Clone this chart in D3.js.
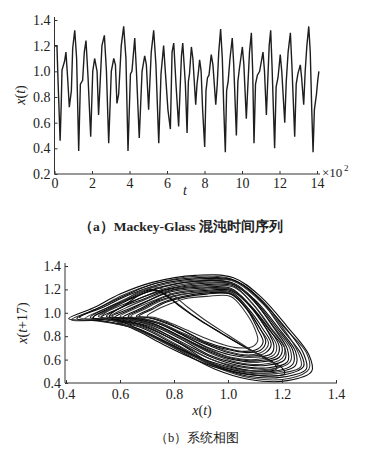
<!DOCTYPE html>
<html>
<head>
<meta charset="utf-8">
<script src="https://cdn.jsdelivr.net/npm/d3@7"></script>
<style>
  body { margin: 0; background: #fff; }
  svg { display: block; }
  text { font-family: "Liberation Serif", "DejaVu Serif", serif; fill: #222; }
</style>
</head>
<body>
<div id="chart"></div>
<script>
// (a) time series at turning points
const seriesT = [0, 13, 19, 30, 36, 40, 54, 61, 70, 79, 90, 97, 108, 118, 129, 138, 150, 159, 168, 179,
  193, 204, 214, 227, 235, 253, 266, 277, 289, 303, 316, 325, 333, 342, 356, 369, 381, 392, 405, 413,
  428, 437, 452, 467, 481, 490, 502, 516, 529, 541, 556, 568, 582, 591, 605, 618, 627, 636, 648, 662,
  677, 684, 698, 707, 714, 720, 730, 738, 753, 760, 768, 774, 782, 790, 801, 808, 816, 824, 836, 845,
  860, 868, 876, 886, 895, 903, 911, 918, 926, 936, 948, 956, 970, 978, 986, 1002, 1010, 1023, 1030, 1040,
  1050, 1057, 1064, 1072, 1082, 1094, 1112, 1120, 1130, 1138, 1145, 1153, 1160, 1174, 1182, 1192, 1204, 1212, 1228, 1236,
  1246, 1258, 1266, 1281, 1289, 1298, 1311, 1318, 1329, 1337, 1346, 1356, 1364, 1372, 1379, 1386, 1397, 1404, 1410];
const seriesX = [1.20, 1.20, 0.92, 0.46, 0.75, 1.01, 1.08, 1.15, 0.95, 0.72, 0.85, 1.18, 1.32, 1.10, 0.38, 0.90, 0.93, 1.15, 1.24, 0.95,
  0.49, 1.00, 1.10, 1.00, 0.66, 1.20, 1.28, 1.00, 0.44, 1.00, 1.10, 1.05, 0.75, 0.82, 1.20, 1.35, 1.10, 0.38, 0.98, 1.00,
  1.26, 1.00, 0.48, 1.00, 1.12, 1.05, 0.70, 1.15, 1.32, 1.05, 0.44, 0.98, 1.20, 1.00, 0.70, 0.55, 1.15, 1.22, 0.90, 0.57,
  1.12, 1.22, 0.90, 0.52, 0.92, 0.98, 1.19, 1.10, 0.74, 0.90, 1.00, 1.09, 1.00, 0.70, 0.41, 0.85, 0.95, 0.97, 1.13, 1.05,
  0.74, 0.90, 1.15, 1.33, 1.10, 0.70, 0.37, 0.85, 0.92, 1.10, 1.26, 1.05, 0.50, 0.92, 1.02, 1.19, 1.05, 0.63, 0.85, 1.15,
  1.30, 1.00, 0.44, 0.90, 0.97, 1.00, 1.15, 1.00, 0.66, 0.95, 1.20, 1.32, 1.05, 0.40, 0.88, 0.95, 1.13, 1.00, 0.60, 0.92,
  1.15, 1.30, 1.05, 0.49, 0.90, 0.98, 1.05, 0.95, 0.74, 1.00, 1.20, 1.35, 1.15, 0.70, 0.37, 0.70, 0.82, 0.93, 1.00];

const tTicks = [0, 2, 4, 6, 8, 10, 12, 14];        // x10^2
const xTicksA = [0.2, 0.4, 0.6, 0.8, 1.0, 1.2, 1.4];

// (b) phase portrait, orbits traced by eye from outer edge to the hole: [x(t), x(t+17)]
const orbitsOuter = [
  [[0.41,0.95],[0.50,1.04],[0.60,1.16],[0.72,1.26],[0.88,1.32],[1.02,1.30],[1.12,1.14],[1.22,0.88],[1.30,0.64],[1.31,0.50],[1.22,0.42],[1.08,0.43],[0.95,0.52],[0.80,0.70],[0.65,0.87],[0.52,0.93]],
  [[0.42,0.94],[0.51,1.03],[0.61,1.15],[0.73,1.25],[0.87,1.31],[1.01,1.29],[1.12,1.12],[1.21,0.87],[1.29,0.66],[1.30,0.52],[1.23,0.44],[1.09,0.44],[0.96,0.53],[0.81,0.70],[0.66,0.86],[0.53,0.93]],
  [[0.44,0.95],[0.52,1.04],[0.62,1.15],[0.73,1.25],[0.88,1.30],[1.02,1.28],[1.11,1.13],[1.21,0.88],[1.28,0.65],[1.29,0.52],[1.20,0.45],[1.07,0.46],[0.95,0.55],[0.80,0.72],[0.66,0.87],[0.54,0.93]],
  [[0.45,0.96],[0.54,1.05],[0.63,1.15],[0.74,1.24],[0.88,1.29],[1.03,1.27],[1.12,1.11],[1.20,0.86],[1.27,0.65],[1.28,0.54],[1.21,0.47],[1.08,0.47],[0.94,0.56],[0.81,0.72],[0.67,0.88],[0.55,0.94]],
  [[0.47,0.95],[0.55,1.04],[0.64,1.14],[0.74,1.23],[0.89,1.28],[1.02,1.27],[1.11,1.12],[1.20,0.88],[1.26,0.66],[1.27,0.54],[1.18,0.48],[1.06,0.49],[0.94,0.57],[0.81,0.73],[0.68,0.88],[0.56,0.94]],
  [[0.49,0.96],[0.56,1.05],[0.65,1.13],[0.75,1.22],[0.88,1.27],[1.01,1.26],[1.10,1.11],[1.19,0.86],[1.25,0.67],[1.25,0.55],[1.17,0.49],[1.05,0.50],[0.93,0.58],[0.82,0.74],[0.68,0.89],[0.57,0.94]]
];
const orbitsMiddle = [
  [[0.50,0.96],[0.57,1.04],[0.66,1.14],[0.76,1.22],[0.89,1.27],[1.02,1.25],[1.10,1.10],[1.18,0.87],[1.24,0.68],[1.24,0.56],[1.17,0.50],[1.05,0.52],[0.94,0.60],[0.82,0.74],[0.69,0.89],[0.58,0.94]],
  [[0.52,0.97],[0.59,1.05],[0.67,1.12],[0.77,1.21],[0.90,1.26],[1.03,1.24],[1.10,1.09],[1.17,0.88],[1.23,0.69],[1.23,0.58],[1.16,0.52],[1.04,0.54],[0.93,0.61],[0.82,0.75],[0.70,0.90],[0.59,0.95]],
  [[0.53,0.96],[0.60,1.04],[0.68,1.13],[0.77,1.20],[0.90,1.25],[1.02,1.24],[1.10,1.09],[1.17,0.87],[1.22,0.69],[1.22,0.58],[1.15,0.53],[1.04,0.55],[0.94,0.62],[0.82,0.76],[0.70,0.89],[0.60,0.94]],
  [[0.55,0.97],[0.61,1.05],[0.69,1.12],[0.78,1.20],[0.91,1.24],[1.02,1.23],[1.09,1.08],[1.16,0.86],[1.21,0.70],[1.21,0.60],[1.14,0.55],[1.03,0.57],[0.93,0.64],[0.83,0.77],[0.71,0.90],[0.61,0.95]],
  [[0.56,0.96],[0.62,1.04],[0.70,1.12],[0.78,1.19],[0.90,1.23],[1.02,1.22],[1.09,1.08],[1.16,0.87],[1.21,0.70],[1.20,0.61],[1.13,0.56],[1.03,0.58],[0.94,0.65],[0.83,0.78],[0.72,0.90],[0.62,0.95]],
  [[0.57,0.97],[0.63,1.03],[0.71,1.11],[0.79,1.19],[0.91,1.22],[1.01,1.21],[1.08,1.07],[1.15,0.86],[1.20,0.71],[1.19,0.62],[1.12,0.58],[1.02,0.60],[0.93,0.67],[0.83,0.79],[0.72,0.91],[0.64,0.95]],
  [[0.58,0.96],[0.64,1.03],[0.71,1.11],[0.79,1.18],[0.90,1.21],[1.01,1.20],[1.08,1.07],[1.15,0.87],[1.19,0.71],[1.18,0.63],[1.11,0.59],[1.02,0.61],[0.93,0.68],[0.83,0.79],[0.73,0.90],[0.65,0.95]]
];
const orbitsInner = [
  [[0.60,0.97],[0.66,1.04],[0.72,1.10],[0.80,1.17],[0.91,1.20],[1.01,1.20],[1.08,1.06],[1.14,0.87],[1.18,0.72],[1.17,0.64],[1.10,0.60],[1.01,0.62],[0.93,0.69],[0.84,0.80],[0.74,0.91],[0.66,0.95]],
  [[0.61,0.96],[0.67,1.03],[0.73,1.10],[0.80,1.16],[0.91,1.19],[1.01,1.19],[1.08,1.06],[1.14,0.87],[1.17,0.72],[1.16,0.65],[1.09,0.62],[1.01,0.64],[0.93,0.70],[0.84,0.80],[0.74,0.91],[0.67,0.95]],
  [[0.63,0.97],[0.68,1.03],[0.74,1.10],[0.81,1.15],[0.91,1.18],[1.01,1.18],[1.07,1.05],[1.13,0.86],[1.16,0.73],[1.14,0.66],[1.08,0.63],[1.00,0.66],[0.93,0.72],[0.84,0.81],[0.75,0.91],[0.68,0.95]],
  [[0.64,0.97],[0.69,1.03],[0.75,1.10],[0.82,1.15],[0.91,1.18],[1.01,1.17],[1.07,1.04],[1.12,0.86],[1.15,0.74],[1.13,0.67],[1.08,0.64],[1.00,0.67],[0.93,0.73],[0.84,0.82],[0.75,0.91],[0.69,0.95]],
  [[0.66,0.97],[0.71,1.03],[0.76,1.09],[0.83,1.14],[0.92,1.17],[1.01,1.16],[1.07,1.03],[1.12,0.86],[1.14,0.75],[1.12,0.68],[1.07,0.66],[0.99,0.69],[0.92,0.74],[0.85,0.83],[0.76,0.92],[0.70,0.96]],
  [[0.67,0.97],[0.72,1.03],[0.77,1.09],[0.83,1.13],[0.92,1.16],[1.01,1.16],[1.07,1.03],[1.11,0.86],[1.13,0.75],[1.11,0.69],[1.06,0.67],[0.99,0.70],[0.92,0.75],[0.85,0.83],[0.77,0.92],[0.71,0.96]],
  [[0.70,0.97],[0.74,1.03],[0.79,1.08],[0.84,1.12],[0.92,1.14],[1.01,1.14],[1.06,1.02],[1.10,0.86],[1.11,0.76],[1.09,0.71],[1.04,0.70],[0.98,0.73],[0.92,0.78],[0.85,0.85],[0.78,0.92],[0.73,0.96]]
];
// orbits that leave the top early and cut down across the hole
const orbitsCross = [
  [[0.50,0.96],[0.58,1.06],[0.66,1.15],[0.72,1.20],[0.77,1.15],[0.83,1.04],[0.90,0.93],[0.98,0.82],[1.06,0.71],[1.14,0.61],[1.20,0.53],[1.21,0.48],[1.16,0.46],[1.06,0.48],[0.96,0.53],[0.86,0.62],[0.76,0.73],[0.67,0.84],[0.58,0.93]],
  [[0.56,0.97],[0.62,1.07],[0.68,1.16],[0.74,1.19],[0.80,1.10],[0.87,0.98],[0.95,0.86],[1.03,0.75],[1.11,0.65],[1.17,0.57],[1.18,0.52],[1.13,0.50],[1.04,0.52],[0.94,0.58],[0.84,0.67],[0.75,0.77],[0.66,0.87],[0.60,0.93]],
  [[0.53,0.96],[0.60,1.08],[0.67,1.18],[0.73,1.22],[0.79,1.16],[0.85,1.05],[0.92,0.93],[1.00,0.81],[1.08,0.69],[1.15,0.59],[1.19,0.54],[1.15,0.51],[1.05,0.51],[0.95,0.56],[0.85,0.65],[0.75,0.76],[0.66,0.86],[0.58,0.93]]
];
const phaseOrbits = orbitsOuter.concat(orbitsMiddle, orbitsInner, orbitsCross);
const phaseTicks = [0.4, 0.6, 0.8, 1.0, 1.2, 1.4];

const serif = '"Liberation Serif", "DejaVu Serif", serif';
const W = 366, H = 458;
const svg = d3.select('#chart').append('svg').attr('width', W).attr('height', H);

function fmt(d) { return d3.format('.1f')(d); }
function styleTicks(g) {
	g.selectAll('text').attr('font-size', 14).attr('font-family', serif).attr('fill', '#222');
	g.selectAll('.tick line').attr('stroke', '#333');
}
function xOfT(t, plusPart) {
	t.append('tspan').attr('font-style', 'italic').text('x');
	t.append('tspan').text('(');
	t.append('tspan').attr('font-style', 'italic').text('t');
	t.append('tspan').text(plusPart + ')');
}

// ---------- panel (a) ----------
const xa = d3.scaleLinear().domain([0, 1400]).range([54.5, 317]);
const ya = d3.scaleLinear().domain([0.2, 1.4]).range([174, 20]);

const ga = svg.append('g');

ga.append('path')
	.datum(seriesT.map((t, i) => [t, seriesX[i]]))
	.attr('fill', 'none')
	.attr('stroke', '#1e1e1e')
	.attr('stroke-width', 1.4)
	.attr('d', d3.line().x(d => xa(d[0])).y(d => ya(d[1])));

ga.append('g')
	.attr('transform', 'translate(0,174)')
	.call(d3.axisBottom(xa).tickValues(tTicks.map(d => d * 100)).tickSize(-3).tickPadding(3).tickFormat(d => d / 100))
	.call(g => g.select('.domain').attr('d', 'M54.5,0H320').attr('stroke', '#333'))
	.call(styleTicks)
	.call(g => g.selectAll('text').attr('dy', '0.75em'));

ga.append('g')
	.attr('transform', 'translate(54.5,0)')
	.call(d3.axisLeft(ya).tickValues(xTicksA).tickSize(-3).tickPadding(4).tickFormat(fmt))
	.call(g => g.select('.domain').attr('d', 'M0,174V17').attr('stroke', '#333'))
	.call(styleTicks);

ga.append('text').attr('x', 322).attr('y', 177).attr('font-size', 13).text('×10');
ga.append('text').attr('x', 344).attr('y', 171).attr('font-size', 9).text('2');

ga.append('text').attr('x', 185).attr('y', 195).attr('font-size', 14).attr('font-style', 'italic')
	.attr('text-anchor', 'middle').text('t');

ga.append('text').attr('transform', 'translate(25,95) rotate(-90)').attr('font-size', 14)
	.attr('text-anchor', 'middle')
	.call(xOfT, '');

svg.append('text').attr('x', 181).attr('y', 231).attr('font-size', 13.5)
	.attr('font-family', '"Liberation Serif", "Noto Sans CJK SC", serif')
	.attr('font-weight', 'bold').attr('text-anchor', 'middle').text('（a）Mackey-Glass 混沌时间序列');

// ---------- panel (b) ----------
const xb = d3.scaleLinear().domain([0.4, 1.4]).range([66, 336]);
const yb = d3.scaleLinear().domain([0.4, 1.4]).range([383, 266]);

const gb = svg.append('g');

gb.selectAll('.orbit')
	.data(phaseOrbits)
	.join('path')
	.attr('class', 'orbit')
	.attr('fill', 'none')
	.attr('stroke', (d, i) => i % 3 === 1 ? '#333' : '#0c0c0c')
	.attr('stroke-width', 1.1)
	.attr('d', d3.line().x(d => xb(d[0])).y(d => yb(d[1])).curve(d3.curveCatmullRomClosed.alpha(0.5)));

gb.append('g')
	.attr('transform', 'translate(0,383)')
	.call(d3.axisBottom(xb).tickValues(phaseTicks).tickSize(-3).tickPadding(5).tickFormat(fmt))
	.call(g => g.select('.domain').attr('d', 'M65,0H337').attr('stroke', '#333'))
	.call(styleTicks)
	.call(g => g.selectAll('text').attr('dy', '0.75em'));

gb.append('g')
	.attr('transform', 'translate(65,0)')
	.call(d3.axisLeft(yb).tickValues(phaseTicks).tickSize(-3).tickPadding(4).tickFormat(fmt))
	.call(g => g.select('.domain').attr('d', 'M0,383V263').attr('stroke', '#333'))
	.call(styleTicks);

gb.append('text').attr('x', 202).attr('y', 415).attr('font-size', 14).attr('text-anchor', 'middle')
	.call(xOfT, '');

gb.append('text').attr('transform', 'translate(27,323) rotate(-90)').attr('font-size', 14)
	.attr('text-anchor', 'middle')
	.call(xOfT, '+17');

svg.append('text').attr('x', 197).attr('y', 442).attr('font-size', 12.5)
	.attr('font-family', '"Liberation Serif", "Noto Sans CJK SC", serif')
	.attr('text-anchor', 'middle').text('（b）系统相图');
</script>
</body>
</html>
